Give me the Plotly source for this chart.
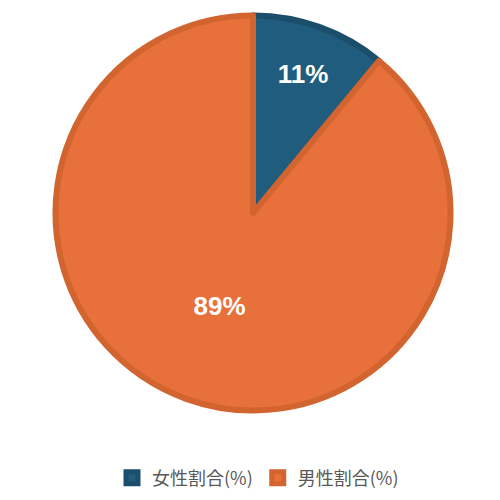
import plotly.graph_objects as go

labels = ["女性割合(%)", "男性割合(%)"]
values = [11, 89]
colors = ["#1F5C7E", "#E8703A"]
borders = ["#1A4E6B", "#D2642F"]

fig = go.Figure(go.Pie(
    labels=labels, values=values, sort=False, direction="clockwise", rotation=0,
    marker=dict(colors=colors, line=dict(color=borders, width=6)),
    texttemplate="<b>%{percent:.0%}</b>", textposition="inside", insidetextorientation="horizontal",
    textfont=dict(color="white", size=26, family="Liberation Sans"),
    domain=dict(x=[0.095, 0.885], y=[0.19, 0.99]),
))
fig.update_layout(
    width=500, height=500, margin=dict(l=0, r=0, t=0, b=0),
    paper_bgcolor="white", showlegend=True,
    legend=dict(orientation="h", x=0.5, xanchor="center", y=0.06, yanchor="middle",
                font=dict(size=18, color="#595959", family="Noto Sans CJK JP")),
)
fig.write_html("out.html")
